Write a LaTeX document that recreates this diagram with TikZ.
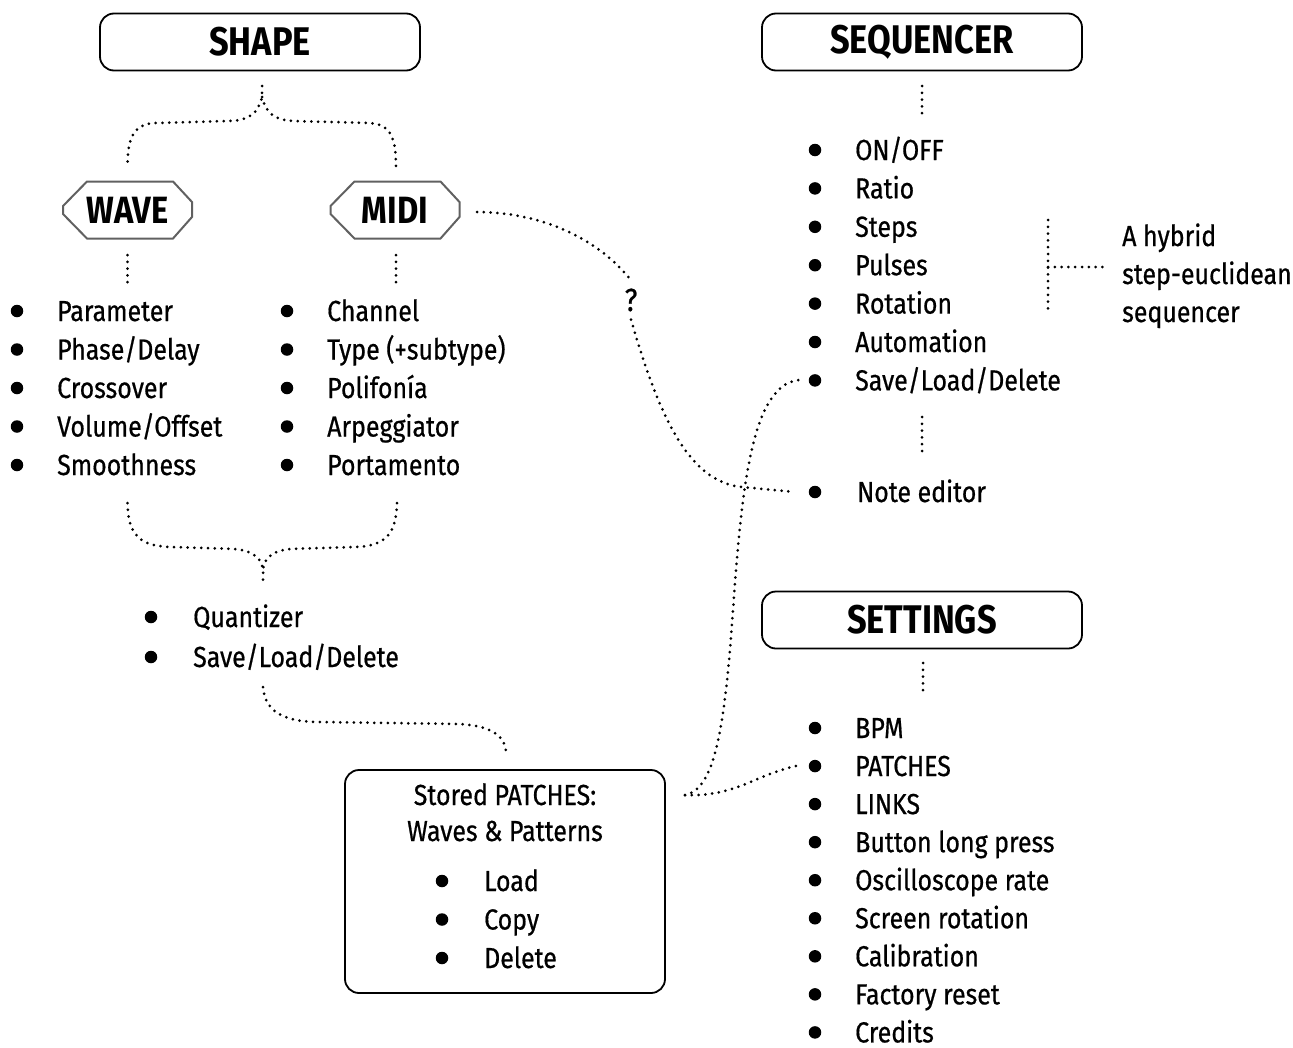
\documentclass[tikz,border=0pt]{standalone}
\usepackage{fontspec}
\setmainfont{Fira Sans}[FakeStretch=0.86]
\newfontfamily\bodyfont{Fira Sans}[FakeStretch=0.86, FakeBold=0.6]
\begin{document}
\begin{tikzpicture}[x=1pt,y=-1pt,
  dots/.style={line width=3pt, dash pattern=on 0pt off 6.8pt, line cap=round},
  rbox/.style={draw, line width=1.8pt, rounded corners=14pt, minimum width=320pt, minimum height=57pt, inner sep=0pt},
  title/.style={font=\fontsize{40}{48}\selectfont\bfseries},
  hextxt/.style={inner sep=0pt, font=\fontsize{38}{44}\selectfont\bfseries},
  hexline/.style={draw=black!62, line width=2pt, line join=miter},
  bul/.style={circle, fill=black, inner sep=0pt, minimum size=12.5pt},
  item/.style={anchor=base west, inner sep=0pt, font=\bodyfont\fontsize{29}{35}\selectfont},
  ctext/.style={anchor=base, inner sep=0pt, font=\bodyfont\fontsize{29}{35}\selectfont},
]
\useasboundingbox (0,0) rectangle (1293,1047);

% ---- title boxes
\node[rbox,title] (shape) at (260,42) {SHAPE};
\node[rbox,title] (seq) at (922,42) {SEQUENCER};
\node[rbox,title] (set) at (922,620) {SETTINGS};

% ---- hexagons
\node[hextxt] (wave) at (127.5,210) {WAVE};
\node[hextxt] (midi) at (395,210) {MIDI};
\foreach \h in {wave,midi}{
  \draw[hexline,shift={(\h.center)}] (-40.5,-28.5) -- (45.5,-28.5) -- (64.5,-8) -- (64.5,7) -- (45.5,28.5) -- (-40.5,28.5) -- (-64.5,4) -- (-64.5,-4) -- cycle;
}

% ---- upper brace (SHAPE -> WAVE / MIDI)
\coordinate (sb0) at (262,86);
\coordinate (sb1) at (262,97);
\coordinate (wtop) at (127.5,168);
\coordinate (mtop) at (396,168);
\draw[dots] (sb0) -- (sb1) .. controls (258,113) and (250,120) .. (230,121) -- (155,123) .. controls (132,124) and (127.5,140) .. (wtop);
\draw[dots] (sb1) .. controls (266,113) and (274,120) .. (294,121) -- (369,123) .. controls (392,124) and (396,140) .. (mtop);

% ---- short verticals under hexagons
\coordinate (wv0) at (127.5,255); \coordinate (wv1) at (127.5,283);
\coordinate (mv0) at (396,255);   \coordinate (mv1) at (396,283);
\draw[dots] (wv0) -- (wv1);
\draw[dots] (mv0) -- (mv1);

% ---- WAVE list
\foreach \t [count=\i] in {Parameter,Phase/Delay,Crossover,Volume/Offset,Smoothness}{
  \node[bul] (wb\i) at (17,{311+38.5*(\i-1)}) {};
  \node[item] (wt\i) at (57,{321+38.5*(\i-1)}) {\t};
}
% ---- MIDI list
\foreach \t [count=\i] in {Channel,Type (+subtype),Polifonía,Arpeggiator,Portamento}{
  \node[bul] (mb\i) at (287,{311+38.5*(\i-1)}) {};
  \node[item] (mt\i) at (327,{321+38.5*(\i-1)}) {\t};
}

% ---- lower brace
\coordinate (lb0) at (127.5,503);
\coordinate (rb0) at (397,503);
\coordinate (jb) at (263,572);
\coordinate (jb1) at (263,584);
\draw[dots] (lb0) .. controls (128,535) and (140,546) .. (170,547) -- (235,549) .. controls (255,551) and (263,560) .. (jb) -- (jb1);
\draw[dots] (rb0) .. controls (396,535) and (385,546) .. (355,547) -- (290,549) .. controls (270,551) and (263,560) .. (jb);

% ---- Quantizer list
\foreach \t [count=\i] in {Quantizer,Save/Load/Delete}{
  \node[bul] (qb\i) at (151,{617+40*(\i-1)}) {};
  \node[item] (qt\i) at (193,{627+40*(\i-1)}) {\t};
}

% ---- stored patches box
\node[draw, line width=1.8pt, rounded corners=14pt, minimum width=320pt, minimum height=223pt, inner sep=0pt] (store) at (505,881.5) {};
\node[ctext] (st1) at (505,805) {Stored PATCHES:};
\node[ctext] (st2) at (505,841) {Waves \& Patterns};
\foreach \t [count=\i] in {Load,Copy,Delete}{
  \node[bul] (sb\i) at (442,{881+38.5*(\i-1)}) {};
  \node[item] (stt\i) at (484,{891+38.5*(\i-1)}) {\t};
}

% Save/Load/Delete -> store
\coordinate (sl0) at (263,687);
\coordinate (sl1) at (506,752);
\draw[dots] (sl0) .. controls (265,715) and (290,722) .. (320,722) -- (460,724) .. controls (490,726) and (505,735) .. (sl1);

% ---- SEQUENCER
\coordinate (sq0) at (922,86); \coordinate (sq1) at (922,114);
\draw[dots] (sq0) -- (sq1);
\foreach \t [count=\i] in {ON/OFF,Ratio,Steps,Pulses,Rotation,Automation,Save/Load/Delete}{
  \node[bul] (qsb\i) at (815,{150+38.4*(\i-1)}) {};
  \node[item] (qst\i) at (855,{160+38.4*(\i-1)}) {\t};
}
\coordinate (sq2) at (922,417); \coordinate (sq3) at (922,455);
\draw[dots] (sq2) -- (sq3);
\node[bul] (nb) at (815,492) {};
\node[item] (nt) at (857,502) {Note editor};

% hybrid bracket
\coordinate (hb0) at (1048,220); \coordinate (hb1) at (1048,315);
\coordinate (hbm) at (1048,267); \coordinate (hbr) at (1108,267);
\draw[dots] (hb0) -- (hb1);
\draw[dots] (hbm) -- (hbr);
\node[item] (hy1) at (1122,246) {A hybrid};
\node[item] (hy2) at (1122,284) {step-euclidean};
\node[item] (hy3) at (1122,322) {sequencer};

% ---- MIDI -> Note editor, with ?
\node[inner sep=8pt, font=\bodyfont\fontsize{32}{38}\selectfont] (q) at (631,300) {?};
\coordinate (mo) at (477,212);
\coordinate (ne) at (795,492);
\draw[dots] (mo) .. controls (540,212) and (598,238) .. (q.north);
\draw[dots] (q.south) .. controls (660,420) and (690,482) .. (742,487) -- (ne);

% ---- SETTINGS
\coordinate (st0) at (923,663); \coordinate (st1c) at (923,692);
\draw[dots] (st0) -- (st1c);
\foreach \t [count=\i] in {BPM,PATCHES,LINKS,Button long press,Oscilloscope rate,Screen rotation,Calibration,Factory reset,Credits}{
  \node[bul] (seb\i) at (815,{728+38.05*(\i-1)}) {};
  \node[item] (set\i) at (855,{738+38.05*(\i-1)}) {\t};
}

% ---- store -> SEQUENCER Save/Load/Delete and -> PATCHES
\coordinate (so) at (685,795);
\coordinate (sqs) at (799,380);
\coordinate (pt) at (796,766);
\draw[dots] (so) .. controls (712,790) and (722,740) .. (730,650) .. controls (740,520) and (745,385) .. (sqs);
\draw[dots] (so) .. controls (735,797) and (755,775) .. (pt);
\end{tikzpicture}
\end{document}
